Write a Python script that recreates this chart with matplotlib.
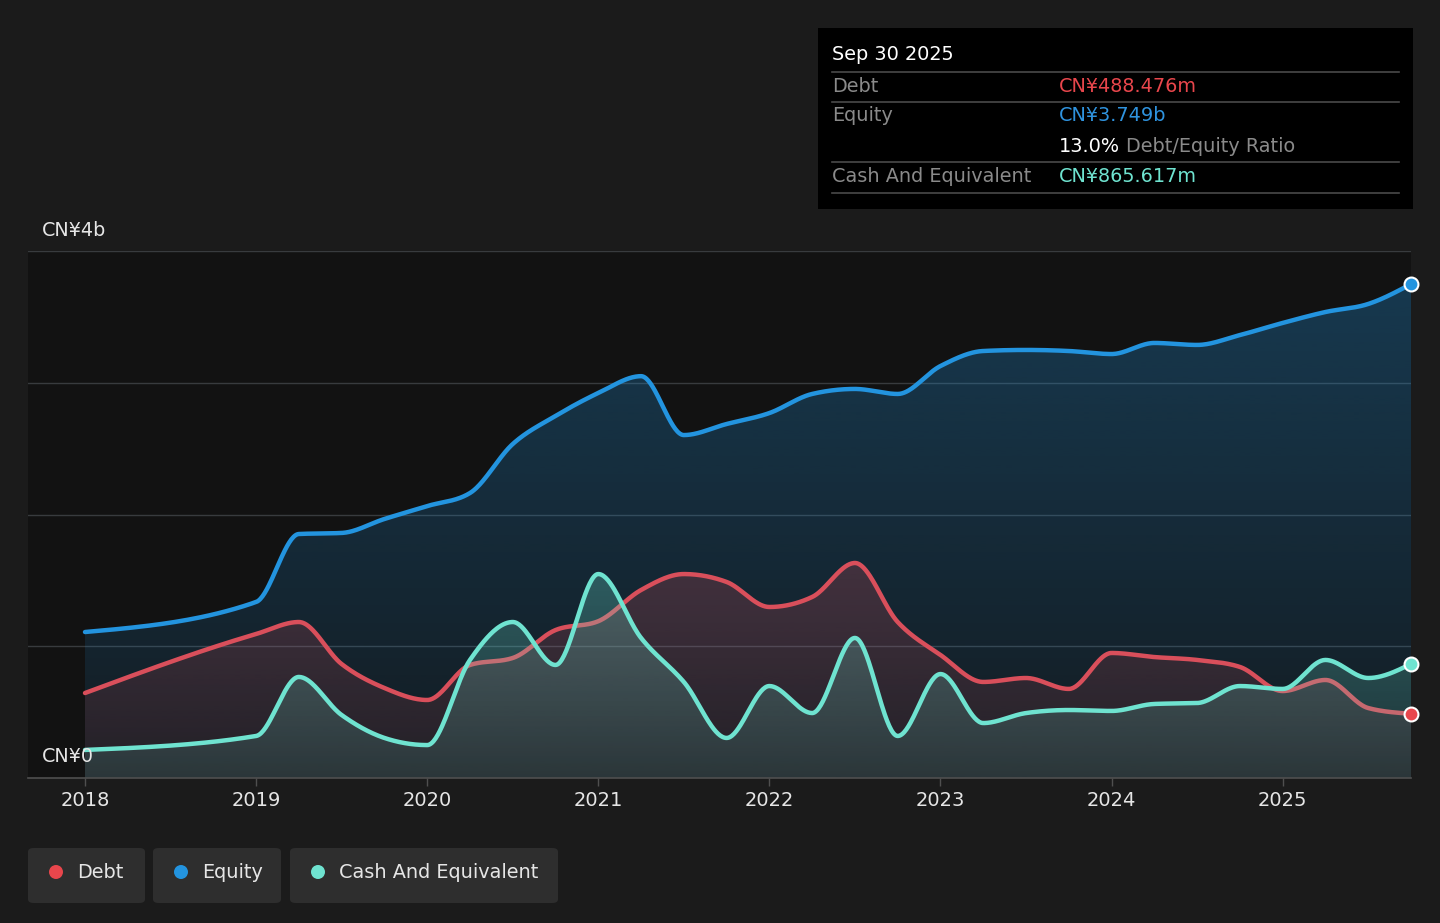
import numpy as np
import matplotlib
matplotlib.use("Agg")
import matplotlib.pyplot as plt
from matplotlib.patches import FancyBboxPatch, PathPatch, Circle

# quarterly sample dates (fractional years) and values in CN¥ billions
dates = [2018.0, 2019.0, 2019.25, 2019.5, 2019.75, 2020.0, 2020.25, 2020.5, 2020.75,
         2021.0, 2021.25, 2021.5, 2021.75, 2022.0, 2022.25, 2022.5, 2022.75,
         2023.0, 2023.25, 2023.5, 2023.75, 2024.0, 2024.25, 2024.5, 2024.75,
         2025.0, 2025.25, 2025.5, 2025.75]
equity = [1.108, 1.336, 1.852, 1.860, 1.966, 2.064, 2.163, 2.535, 2.748,
          2.922, 3.050, 2.603, 2.687, 2.770, 2.915, 2.953, 2.915,
          3.127, 3.241, 3.249, 3.241, 3.218, 3.302, 3.287, 3.362,
          3.454, 3.537, 3.598, 3.749]
debt = [0.645, 1.093, 1.184, 0.865, 0.683, 0.592, 0.858, 0.911, 1.123,
        1.190, 1.427, 1.548, 1.488, 1.298, 1.374, 1.632, 1.184,
        0.934, 0.729, 0.759, 0.676, 0.949, 0.918, 0.896, 0.843,
        0.660, 0.744, 0.531, 0.488]
cash = [0.213, 0.319, 0.767, 0.478, 0.304, 0.250, 0.896, 1.184, 0.858,
        1.548, 1.063, 0.729, 0.304, 0.698, 0.493, 1.063, 0.319,
        0.789, 0.417, 0.493, 0.516, 0.509, 0.562, 0.569, 0.698,
        0.676, 0.896, 0.759, 0.866]

years = list(range(2018, 2026))
series = [("Equity", equity, "#2394df"), ("Debt", debt, "#d94f5b"),
          ("Cash And Equivalent", cash, "#6fe3d0")]
legend_colors = {"Debt": "#e8464c", "Equity": "#2394df", "Cash And Equivalent": "#6fe3d0"}

FIG_BG = "#1b1b1b"
AX_BG = "#121212"


def monotone(x, y, per=40):
    """monotone cubic (d3 curveMonotoneX style) for drawing the smooth lines"""
    x = np.asarray(x, float); y = np.asarray(y, float)
    n = len(x)
    h = np.diff(x); s = np.diff(y) / h
    t = np.zeros(n)
    for i in range(1, n - 1):
        p = (s[i - 1] * h[i] + s[i] * h[i - 1]) / (h[i - 1] + h[i])
        t[i] = (np.sign(s[i - 1]) + np.sign(s[i])) * min(abs(s[i - 1]), abs(s[i]), 0.5 * abs(p))
    t[0] = (3 * s[0] - t[1]) / 2
    t[-1] = (3 * s[-1] - t[-2]) / 2
    xs, ys = [], []
    for i in range(n - 1):
        u = np.linspace(0, 1, per, endpoint=False)
        dx = h[i]
        h00 = 2 * u**3 - 3 * u**2 + 1; h10 = u**3 - 2 * u**2 + u
        h01 = -2 * u**3 + 3 * u**2; h11 = u**3 - u**2
        xs.append(x[i] + u * dx)
        ys.append(h00 * y[i] + h10 * dx * t[i] + h01 * y[i + 1] + h11 * dx * t[i + 1])
    xs.append([x[-1]]); ys.append([y[-1]])
    return np.concatenate(xs), np.concatenate(ys)


def gradient_fill(ax, x, y, color, a_top, a_bot, z):
    verts = np.column_stack([np.r_[x, x[::-1]], np.r_[y, np.zeros_like(y)]])
    patch = PathPatch(matplotlib.path.Path(verts), facecolor="none", edgecolor="none",
                      transform=ax.transData)
    ax.add_patch(patch)
    rgb = matplotlib.colors.to_rgb(color)
    img = np.zeros((200, 1, 4))
    img[:, :, :3] = rgb
    img[:, 0, 3] = np.linspace(a_bot, a_top, 200)
    im = ax.imshow(img, extent=[x.min(), x.max(), 0, y.max()], origin="lower",
                   aspect="auto", zorder=z, interpolation="bilinear")
    im.set_clip_path(patch)


W, H = 1440, 923
fx = lambda px: px / W
fy = lambda py: 1 - py / H

fig = plt.figure(figsize=(14.4, 9.23), dpi=100, facecolor=FIG_BG)
ax = fig.add_axes([28 / W, 1 - 778 / H, (1411 - 28) / W, 527 / H])
ax.set_facecolor(AX_BG)
ppy = (1411 - 85) / 7.75
ax.set_xlim(2018 - 57 / ppy, 2025.75)
ax.set_ylim(0, 4)
for sp in ax.spines.values():
    sp.set_visible(False)

for g in [1, 2, 3, 4]:
    ax.axhline(g, color="#383b3e", lw=1, zorder=1)
ax.axhline(0, color="#4f4f4f", lw=1.2, zorder=10, clip_on=False)

ax.set_yticks([])
ax.set_xticks(years)
ax.set_xticklabels([str(y) for y in years], color="#e6e6e6", fontsize=14)
ax.tick_params(axis="x", length=6, width=1, color="#4f4f4f", pad=3)

fills = {"Equity": (0.30, 0.08), "Debt": (0.24, 0.08), "Cash And Equivalent": (0.28, 0.12)}
z = 2
for name, vals, col in series:
    xs, ys = monotone(dates, vals)
    gradient_fill(ax, xs, ys, col, *fills[name], z)
    ax.plot(xs, ys, color=col, lw=3.2, zorder=z + 0.5, solid_capstyle="round")
    z += 1

# end-point markers
for name, vals, col in series:
    ax.plot(dates[-1], vals[-1], "o", ms=10, mfc=legend_colors[name], mec="white",
            mew=1.5, zorder=20, clip_on=False)

fig.text(42 / W, 1 - 230 / H, "CN¥4b", color="#e6e6e6", fontsize=13.8, va="center")
fig.text(42 / W, 1 - 757 / H, "CN¥0", color="#e6e6e6", fontsize=13.8, va="center", zorder=30)

# tooltip box
fig.patches.append(FancyBboxPatch((fx(818), fy(209)), fx(1413) - fx(818), fy(28) - fy(209),
                                  boxstyle="square,pad=0", facecolor="#000000",
                                  edgecolor="none", transform=fig.transFigure, zorder=5))
for ly in [72, 102, 162, 193]:
    fig.add_artist(matplotlib.lines.Line2D([fx(832), fx(1399)], [fy(ly), fy(ly)],
                                           color="#4a4a4a", lw=1.2, zorder=6))
fs = 13.9
fig.text(fx(832), fy(55), "Sep 30 2025", color="white", fontsize=fs, va="center", zorder=7)
rows = [("Debt", "CN¥488.476m", "#e8464c", 86),
        ("Equity", "CN¥3.749b", "#2f93de", 116),
        ("Cash And Equivalent", "CN¥865.617m", "#6fe3d0", 176)]
for lab, val, col, ty in rows:
    fig.text(fx(832), fy(ty), lab, color="#8a8a8a", fontsize=fs, va="center", zorder=7)
    fig.text(fx(1059), fy(ty), val, color=col, fontsize=fs, va="center", zorder=7)
t = fig.text(fx(1059), fy(146), "13.0%", color="white", fontsize=fs, va="center", zorder=7)
fig.canvas.draw()
bb = t.get_window_extent()
fig.text(bb.x1 / W + fx(6), fy(146), "Debt/Equity Ratio", color="#8a8a8a", fontsize=fs,
         va="center", zorder=7)

# legend chips
chips = [("Debt", 28, 145), ("Equity", 153, 281), ("Cash And Equivalent", 290, 558)]
for lab, x0, x1 in chips:
    fig.patches.append(FancyBboxPatch((fx(x0), fy(903)), fx(x1) - fx(x0), fy(848) - fy(903),
                                      boxstyle="round,pad=0,rounding_size=0.004",
                                      facecolor="#2e2e2e", edgecolor="none",
                                      transform=fig.transFigure, zorder=5))
    fig.add_artist(Circle((x0 + 28, H - 872), 7, transform=None, facecolor=legend_colors[lab],
                          edgecolor="none", zorder=6))
    fig.text(fx(x0 + 49), fy(873), lab, color="#e6e6e6", fontsize=13.9, va="center", zorder=7)

fig.savefig("out.png", dpi=100, facecolor=FIG_BG)
